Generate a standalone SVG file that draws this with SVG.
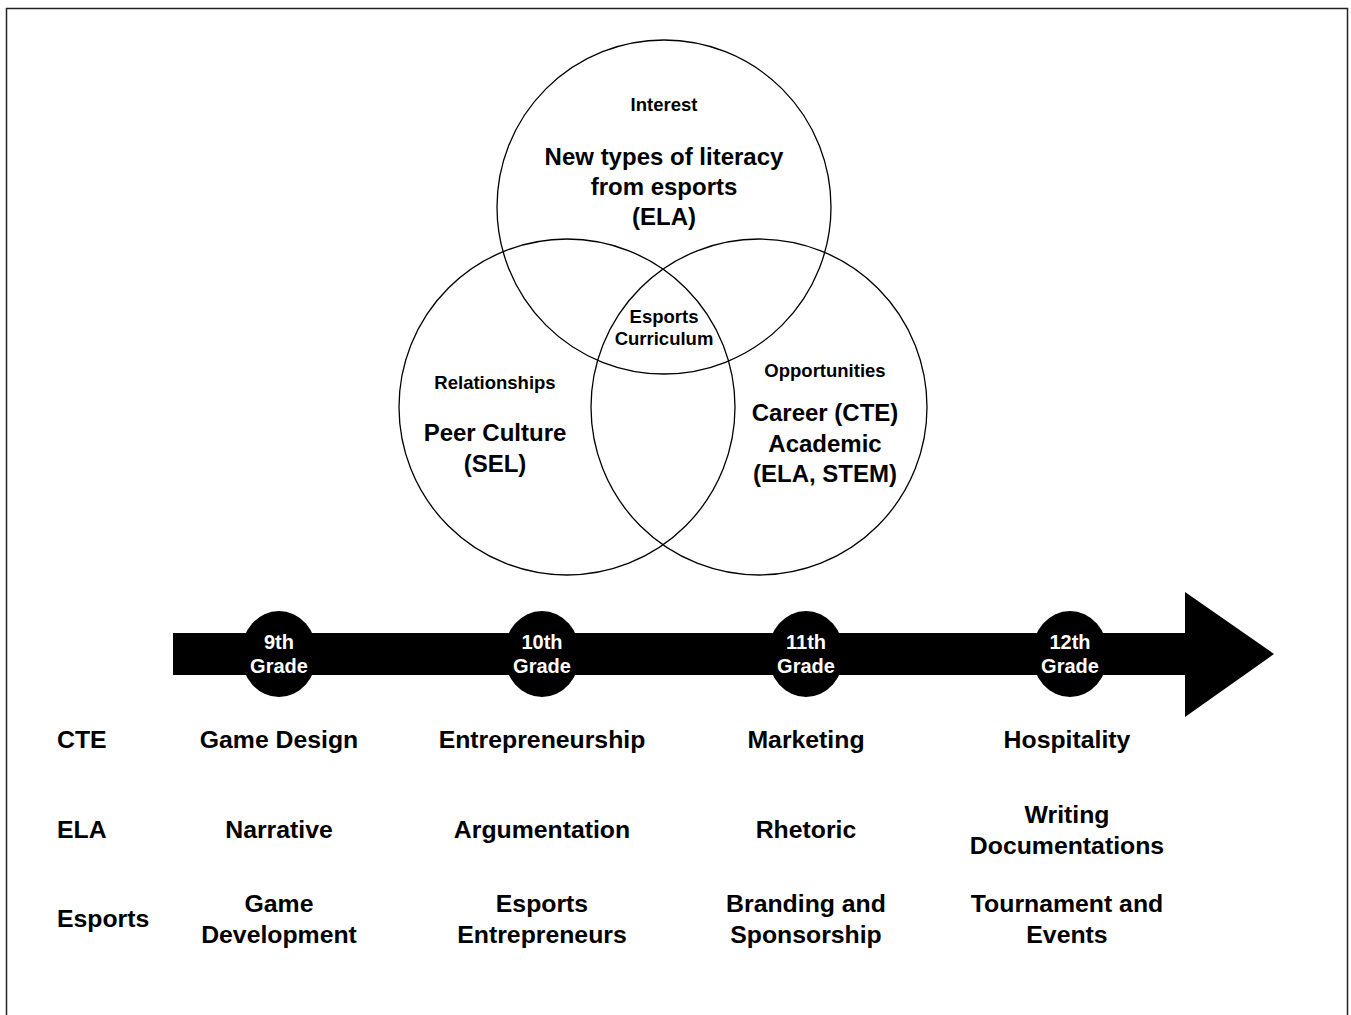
<svg xmlns="http://www.w3.org/2000/svg" width="1351" height="1015" viewBox="0 0 1351 1015">
<style>
text{font-family:"Liberation Sans",Arial,sans-serif;font-weight:bold;fill:#000;text-anchor:middle}
.sm{font-size:18.5px}
.lg{font-size:24px}
.row{font-size:24.8px}
.left{text-anchor:start}
.gr{font-size:20px;fill:#fff}
.venn{fill:none;stroke:#000;stroke-width:1.3}
</style>
<rect x="0" y="0" width="1351" height="1015" fill="#fff"/>
<rect x="6.5" y="8.5" width="1341" height="1030" fill="none" stroke="#222" stroke-width="1.5"/>
<g id="venn">
<g id="interest">
<circle class="venn" cx="664" cy="207" r="167"/>
<text class="sm" x="664" y="110.5">Interest</text>
<text class="lg" x="664" y="164.5">New types of literacy</text>
<text class="lg" x="664" y="194.5">from esports</text>
<text class="lg" x="664" y="224.5">(ELA)</text>
</g>
<g id="relationships">
<circle class="venn" cx="567" cy="407" r="168"/>
<text class="sm" x="495" y="388.5">Relationships</text>
<text class="lg" x="495" y="440.5">Peer Culture</text>
<text class="lg" x="495" y="471.5">(SEL)</text>
</g>
<g id="opportunities">
<circle class="venn" cx="759" cy="407" r="168"/>
<text class="sm" x="825" y="376.5">Opportunities</text>
<text class="lg" x="825" y="420.5">Career (CTE)</text>
<text class="lg" x="825" y="451.5">Academic</text>
<text class="lg" x="825" y="481.5">(ELA, STEM)</text>
</g>
<g id="center">
<text class="sm" x="664" y="322.5">Esports</text>
<text class="sm" x="664" y="344.5">Curriculum</text>
</g>
</g>
<g id="connectors">
<path d="M173 633 H1185 V592 L1274 654 L1185 717 V675 H173 Z" fill="#000"/>
</g>
<g id="grade9"><ellipse cx="279" cy="654" rx="38" ry="43" fill="#000"/><text class="gr" x="279" y="649">9th</text><text class="gr" x="279" y="673">Grade</text></g>
<g id="grade10"><ellipse cx="542" cy="654" rx="38" ry="43" fill="#000"/><text class="gr" x="542" y="649">10th</text><text class="gr" x="542" y="673">Grade</text></g>
<g id="grade11"><ellipse cx="806" cy="654" rx="38" ry="43" fill="#000"/><text class="gr" x="806" y="649">11th</text><text class="gr" x="806" y="673">Grade</text></g>
<g id="grade12"><ellipse cx="1070" cy="654" rx="38" ry="43" fill="#000"/><text class="gr" x="1070" y="649">12th</text><text class="gr" x="1070" y="673">Grade</text></g>
<g id="row-cte">
<text class="row left" x="57" y="747.8">CTE</text>
<text class="row" x="279" y="747.8">Game Design</text>
<text class="row" x="542" y="747.8">Entrepreneurship</text>
<text class="row" x="806" y="747.8">Marketing</text>
<text class="row" x="1067" y="747.8">Hospitality</text>
</g>
<g id="row-ela">
<text class="row left" x="57" y="837.8">ELA</text>
<text class="row" x="279" y="837.8">Narrative</text>
<text class="row" x="542" y="837.8">Argumentation</text>
<text class="row" x="806" y="837.8">Rhetoric</text>
<text class="row" x="1067" y="822.8">Writing</text>
<text class="row" x="1067" y="853.8">Documentations</text>
</g>
<g id="row-esports">
<text class="row left" x="57" y="926.8">Esports</text>
<text class="row" x="279" y="911.8">Game</text>
<text class="row" x="279" y="942.8">Development</text>
<text class="row" x="542" y="911.8">Esports</text>
<text class="row" x="542" y="942.8">Entrepreneurs</text>
<text class="row" x="806" y="911.8">Branding and</text>
<text class="row" x="806" y="942.8">Sponsorship</text>
<text class="row" x="1067" y="911.8">Tournament and</text>
<text class="row" x="1067" y="942.8">Events</text>
</g>
</svg>
